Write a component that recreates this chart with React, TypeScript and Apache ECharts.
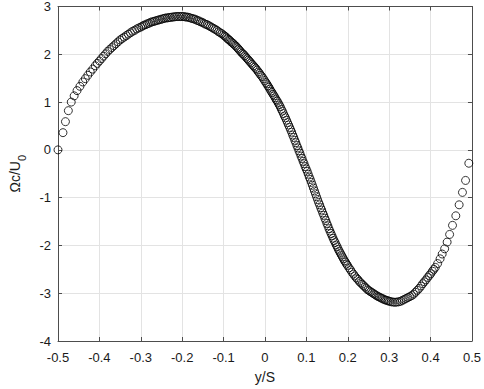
import React, { useEffect, useRef } from 'react';
import * as echarts from 'echarts';

// x tick labels / y tick labels
const xTicks = [-0.5, -0.4, -0.3, -0.2, -0.1, 0, 0.1, 0.2, 0.3, 0.4, 0.5];
const yTicks = [-4, -3, -2, -1, 0, 1, 2, 3];

// Omega c / U0 versus y/S, segment by segment
const leftEdge: number[][] = [[-0.5,0.0],[-0.488,0.36],[-0.482,0.59],[-0.475,0.82],[-0.468,1.0],[-0.461,1.13],[-0.454,1.24],[-0.447,1.33],[-0.44,1.42],[-0.434,1.49],[-0.428,1.56],[-0.422,1.63],[-0.416,1.69],[-0.41,1.76],[-0.405,1.81],[-0.4,1.86]];
const riseLeft: number[][] = [[-0.395,1.91],[-0.39,1.96],[-0.385,2.01],[-0.38,2.06],[-0.375,2.1],[-0.37,2.14],[-0.365,2.18],[-0.36,2.22],[-0.355,2.26],[-0.35,2.3],[-0.345,2.33],[-0.34,2.36],[-0.335,2.39],[-0.33,2.42],[-0.325,2.45],[-0.32,2.48],[-0.315,2.5],[-0.31,2.53],[-0.305,2.55],[-0.3,2.57]];
const peakLeft: number[][] = [[-0.296,2.59],[-0.292,2.61],[-0.288,2.62],[-0.284,2.64],[-0.28,2.65],[-0.276,2.67],[-0.272,2.68],[-0.268,2.69],[-0.264,2.7],[-0.26,2.71],[-0.256,2.72],[-0.252,2.73],[-0.248,2.74],[-0.244,2.75],[-0.24,2.76],[-0.236,2.76],[-0.232,2.77],[-0.228,2.77],[-0.224,2.78],[-0.22,2.78],[-0.216,2.79],[-0.212,2.79],[-0.208,2.79],[-0.204,2.79],[-0.2,2.79]];
const peakRight: number[][] = [[-0.196,2.79],[-0.192,2.78],[-0.188,2.78],[-0.184,2.77],[-0.18,2.76],[-0.176,2.75],[-0.172,2.74],[-0.168,2.73],[-0.164,2.71],[-0.16,2.7],[-0.156,2.68],[-0.152,2.67],[-0.148,2.65],[-0.144,2.63],[-0.14,2.62],[-0.136,2.6],[-0.132,2.58],[-0.128,2.56],[-0.124,2.54],[-0.12,2.52],[-0.116,2.5],[-0.112,2.47],[-0.108,2.45],[-0.104,2.43],[-0.1,2.4]];
const descentUpper: number[][] = [[-0.097,2.38],[-0.094,2.36],[-0.091,2.33],[-0.088,2.31],[-0.085,2.29],[-0.082,2.26],[-0.079,2.24],[-0.076,2.22],[-0.073,2.19],[-0.07,2.17],[-0.067,2.14],[-0.064,2.11],[-0.061,2.08],[-0.058,2.05],[-0.055,2.02],[-0.052,2.0],[-0.049,1.97],[-0.046,1.94],[-0.043,1.91],[-0.04,1.88],[-0.037,1.85],[-0.034,1.82],[-0.031,1.79],[-0.028,1.76],[-0.025,1.73],[-0.022,1.7],[-0.019,1.67],[-0.016,1.63],[-0.013,1.6],[-0.01,1.56],[-0.007,1.53],[-0.004,1.49],[-0.001,1.45]];
const descentMiddle: number[][] = [[0.002,1.41],[0.0045,1.38],[0.007,1.34],[0.0095,1.31],[0.012,1.27],[0.0145,1.23],[0.017,1.2],[0.0195,1.16],[0.022,1.13],[0.0245,1.09],[0.027,1.05],[0.0295,1.02],[0.032,0.98],[0.0345,0.94],[0.037,0.9],[0.0395,0.85],[0.042,0.81],[0.0445,0.76],[0.047,0.71],[0.0495,0.67],[0.052,0.62],[0.0545,0.57],[0.057,0.52],[0.0595,0.47],[0.062,0.42],[0.0645,0.37],[0.067,0.31],[0.0695,0.26],[0.072,0.2],[0.0745,0.15],[0.077,0.09],[0.0795,0.04],[0.082,-0.02],[0.0845,-0.07],[0.087,-0.13],[0.0895,-0.18],[0.092,-0.24],[0.0945,-0.29],[0.097,-0.35],[0.0995,-0.4]];
const descentLower: number[][] = [[0.102,-0.45],[0.1045,-0.51],[0.107,-0.57],[0.1095,-0.62],[0.112,-0.68],[0.1145,-0.74],[0.117,-0.8],[0.1195,-0.86],[0.122,-0.92],[0.1245,-0.98],[0.127,-1.04],[0.1295,-1.1],[0.132,-1.15],[0.1345,-1.21],[0.137,-1.26],[0.1395,-1.32],[0.142,-1.37],[0.1445,-1.43],[0.147,-1.48],[0.1495,-1.54],[0.152,-1.59],[0.1545,-1.65],[0.157,-1.7],[0.1595,-1.75],[0.162,-1.8],[0.1645,-1.85],[0.167,-1.9],[0.1695,-1.94],[0.172,-1.99],[0.1745,-2.03],[0.177,-2.08],[0.1795,-2.12],[0.182,-2.16],[0.1845,-2.2],[0.187,-2.24],[0.1895,-2.28],[0.192,-2.32],[0.1945,-2.35],[0.197,-2.39],[0.1995,-2.42]];
const troughLeft: number[][] = [[0.203,-2.47],[0.2065,-2.51],[0.21,-2.56],[0.2135,-2.6],[0.217,-2.64],[0.2205,-2.68],[0.224,-2.71],[0.2275,-2.75],[0.231,-2.78],[0.2345,-2.81],[0.238,-2.84],[0.2415,-2.87],[0.245,-2.9],[0.2485,-2.93],[0.252,-2.95],[0.2555,-2.97],[0.259,-2.99],[0.2625,-3.01],[0.266,-3.03],[0.2695,-3.05],[0.273,-3.07],[0.2765,-3.08],[0.28,-3.1],[0.2835,-3.11],[0.287,-3.13],[0.2905,-3.14],[0.294,-3.15],[0.2975,-3.16],[0.301,-3.17]];
const troughRight: number[][] = [[0.305,-3.18],[0.3095,-3.185],[0.314,-3.19],[0.3185,-3.185],[0.323,-3.18],[0.3275,-3.17],[0.332,-3.15],[0.3365,-3.13],[0.341,-3.11],[0.3455,-3.09],[0.35,-3.07],[0.3545,-3.05],[0.359,-3.02],[0.3635,-2.98],[0.368,-2.94],[0.3725,-2.9],[0.377,-2.85],[0.381,-2.8],[0.385,-2.76],[0.389,-2.72],[0.393,-2.67],[0.397,-2.63],[0.4005,-2.59],[0.4045,-2.54],[0.408,-2.5]];
const rightEdge: number[][] = [[0.4115,-2.46],[0.417,-2.38],[0.423,-2.28],[0.428,-2.18],[0.434,-2.07],[0.44,-1.93],[0.446,-1.77],[0.453,-1.58],[0.461,-1.38],[0.469,-1.15],[0.477,-0.89],[0.4845,-0.64],[0.4924,-0.28]];

const FONT = '"Liberation Sans", Arial, Helvetica, sans-serif';
const TEXT = '#1a1a1a';
const AXIS = '#4d4d4d';
const GRID = '#e3e3e3';

export default function App() {
  const ref = useRef<HTMLDivElement>(null);
  useEffect(() => {
    const chart = echarts.init(ref.current!, null, { renderer: 'svg' });
    const points = [
      ...leftEdge, ...riseLeft, ...peakLeft, ...peakRight, ...descentUpper,
      ...descentMiddle, ...descentLower, ...troughLeft, ...troughRight, ...rightEdge,
    ];
    const xMin = xTicks[0], xMax = xTicks[xTicks.length - 1];
    const yMin = yTicks[0], yMax = yTicks[yTicks.length - 1];
    const tickStyle = { show: true, inside: true, length: 4, lineStyle: { color: AXIS, width: 1 } };
    const lineStyle = { show: true, onZero: false, lineStyle: { color: AXIS, width: 1 } };
    chart.setOption({
      animation: false,
      backgroundColor: '#ffffff',
      grid: { left: 42, right: 9, top: 4, bottom: 43, containLabel: false },
      xAxis: [
        {
          type: 'value', min: xMin, max: xMax, interval: 0.1,
          axisLine: lineStyle, axisTick: tickStyle,
          splitLine: { show: true, lineStyle: { color: GRID, width: 1 } },
          axisLabel: { color: TEXT, fontFamily: FONT, fontSize: 13, margin: 10 },
          name: 'y/S', nameLocation: 'middle', nameGap: 29,
          nameTextStyle: { color: TEXT, fontFamily: FONT, fontSize: 14 },
        },
        {
          type: 'value', position: 'top', min: xMin, max: xMax, interval: 0.1,
          axisLine: lineStyle, axisTick: tickStyle,
          splitLine: { show: false }, axisLabel: { show: false },
        },
      ],
      yAxis: [
        {
          type: 'value', min: yMin, max: yMax, interval: 1,
          axisLine: lineStyle, axisTick: tickStyle,
          splitLine: { show: true, lineStyle: { color: GRID, width: 1 } },
          axisLabel: { color: TEXT, fontFamily: FONT, fontSize: 13, margin: 7 },
          name: '{main|Ωc/U}{sub|0}', nameLocation: 'middle', nameGap: 31,
          nameTextStyle: {
            color: TEXT, fontFamily: FONT, fontSize: 14,
            rich: {
              main: { color: TEXT, fontFamily: FONT, fontSize: 14, verticalAlign: 'bottom', padding: [0, 0, 5, 0] },
              sub: { color: TEXT, fontFamily: FONT, fontSize: 11, verticalAlign: 'bottom' },
            },
          },
        },
        {
          type: 'value', position: 'right', min: yMin, max: yMax, interval: 1,
          axisLine: lineStyle, axisTick: tickStyle,
          splitLine: { show: false }, axisLabel: { show: false },
        },
      ],
      series: [
        {
          type: 'scatter', xAxisIndex: 0, yAxisIndex: 0,
          symbol: 'circle', symbolSize: 8,
          itemStyle: { color: 'rgba(0,0,0,0)', borderColor: '#000000', borderWidth: 1 },
          data: points,
          silent: true,
        },
      ],
    });
    return () => chart.dispose();
  }, []);
  return (
    <div
      ref={ref}
      style={{ position: 'fixed', left: 0, top: 0, width: 484, height: 389, background: '#fff' }}
    />
  );
}
